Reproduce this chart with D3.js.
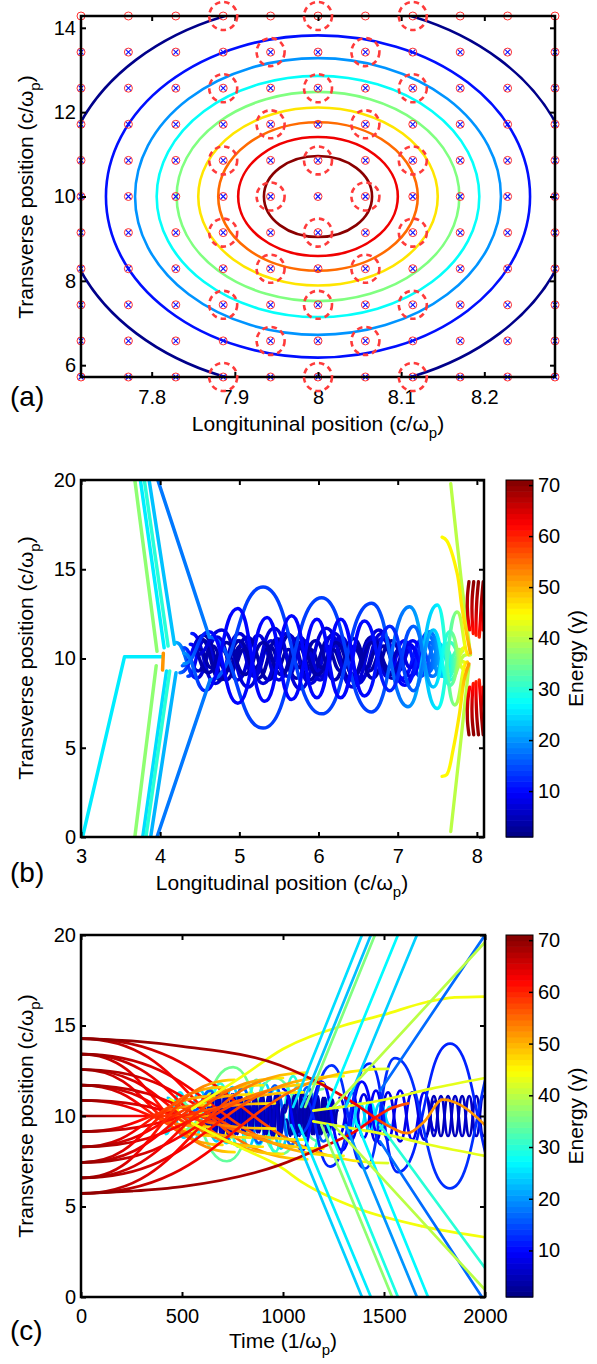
<!DOCTYPE html>
<html>
<head>
<meta charset="utf-8">
<title>Electron trajectories</title>
<script src="https://cdn.jsdelivr.net/npm/d3@7"></script>
<style>
  body { margin: 0; background: #fff; }
  svg { display: block; font-family: "Liberation Sans", Arial, sans-serif; }
</style>
</head>
<body>
<script>
// ---------- panel (a): initial grid and contours ----------
const aGridX = [7.715, 7.772, 7.829, 7.886, 7.943, 8.0, 8.057, 8.114, 8.171, 8.228, 8.285];
const aGridY = [5.72, 6.576, 7.432, 8.288, 9.144, 10.0, 10.856, 11.712, 12.568, 13.424, 14.28];
const aMarked = [
  [7.886,14.28],[8.0,14.28],[8.114,14.28],
  [7.943,13.424],[8.057,13.424],
  [7.886,12.568],[8.0,12.568],[8.114,12.568],
  [7.943,11.712],[8.057,11.712],
  [7.886,10.856],[8.0,10.856],[8.114,10.856],
  [7.943,10.0],[8.057,10.0],
  [7.886,9.144],[8.0,9.144],[8.114,9.144],
  [7.943,8.288],[8.057,8.288],
  [7.886,7.432],[8.0,7.432],[8.114,7.432],
  [7.943,6.576],[8.057,6.576],
  [7.886,5.72],[8.0,5.72],[8.114,5.72]
];
const aLevel = [0.99, 0.89, 0.77, 0.65, 0.5, 0.38, 0.27, 0.14, 0.01];
const aLevelRx = [0.065, 0.096, 0.12, 0.144, 0.17, 0.194, 0.22, 0.255, 0.309];
const aLevelRy = [0.96, 1.41, 1.76, 2.11, 2.48, 2.86, 3.28, 3.82, 4.59];
const aXTicks = [7.8, 7.9, 8, 8.1, 8.2];
const aYTicks = [6, 8, 10, 12, 14];

// ---------- panel (b): trajectories in the bubble frame ----------
const bXTicks = [3, 4, 5, 6, 7, 8];
const bYTicks = [0, 5, 10, 15, 20];
const bInjection = [
  {p:[[3.68,20],[3.96,10.4]], e:37},
  {p:[[3.75,20],[4.05,10.6]], e:26},
  {p:[[3.80,20],[4.10,10.7]], e:30},
  {p:[[3.86,20],[4.18,10.8]], e:23},
  {p:[[3.97,20],[4.62,11.2]], e:18},
  {p:[[3.02,0],[3.55,10.1],[4.02,10.1]], e:26},
  {p:[[3.68,0],[3.95,9.6]], e:37},
  {p:[[3.78,0],[4.08,9.3]], e:25},
  {p:[[3.82,0],[4.12,9.3]], e:30},
  {p:[[3.88,0],[4.20,9.2]], e:22},
  {p:[[3.96,0],[4.63,8.8]], e:18},
  {p:[[4.03,9.35],[4.04,10.3]], e:52}
];
const bEnd = [[4.3,20],[4.6,10],[6.6,10],[7.0,13],[7.3,18],[7.5,25],[7.7,34],[7.85,46]];
const bOrbits = [
  {p:[[4.62,11.2],[5.30,6.1],[6.04,13.4],[6.67,7.0],[7.15,12.9],[7.50,7.2],[7.75,12.6],[7.90,10.2]],
   e:[[4.62,17],[5.0,14],[6.7,14],[7.15,19],[7.5,26],[7.75,37],[7.9,48]]},
  {p:[[4.63,8.8],[5.30,14.0],[6.04,6.9],[6.67,13.1],[7.13,7.3],[7.50,13.0],[7.72,7.4],[7.88,9.8]],
   e:[[4.63,17],[5.0,14],[6.7,14],[7.13,19],[7.5,26],[7.72,37],[7.88,48]]},
  {p:[[4.30,10.3],[4.57,8.2],[4.98,12.8],[5.32,7.6],[5.66,12.4],[5.98,7.8],[6.28,12.2],[6.58,7.9],[6.90,11.8],[7.20,8.2],[7.45,11.6],[7.66,8.5],[7.84,10.6]], e:bEnd},
  {p:[[4.30,9.7],[4.62,11.5],[4.98,7.5],[5.35,12.3],[5.66,7.7],[5.98,12.2],[6.28,7.8],[6.58,12.1],[6.90,8.2],[7.20,11.8],[7.45,8.4],[7.66,11.5],[7.84,9.4]], e:bEnd}
];
const bBandE = [[4.2,22],[4.5,7],[6.8,7],[7.2,11],[7.45,18],[7.65,28],[7.8,40]];
const bBandDeepE = [[4.2,20],[4.5,4],[6.9,4],[7.25,10],[7.5,20],[7.7,32],[7.85,44]];
const bBand = [
  {p:[[4.20,10.9],[4.46,8.9],[4.72,11.2],[4.98,8.8],[5.24,11.3],[5.50,8.8],[5.76,11.2],[6.02,8.8],[6.28,11.2],[6.54,8.9],[6.80,11.1],[7.06,8.9],[7.32,11.1],[7.56,9.0],[7.78,10.5]], e:bBandE},
  {p:[[4.25,9.2],[4.55,11.3],[4.83,8.8],[5.10,11.2],[5.37,8.8],[5.63,11.3],[5.89,8.8],[6.15,11.2],[6.41,8.8],[6.67,11.2],[6.93,8.9],[7.19,11.0],[7.44,9.0],[7.66,10.9],[7.84,9.8]], e:bBandDeepE},
  {p:[[4.30,10.6],[4.48,9.3],[4.66,10.7],[4.84,9.3],[5.02,10.7],[5.20,9.3],[5.38,10.7],[5.56,9.3],[5.74,10.7],[5.92,9.3],[6.10,10.7],[6.28,9.3],[6.46,10.7],[6.64,9.3],[6.82,10.7],[7.00,9.3],[7.18,10.6],[7.36,9.4],[7.54,10.6],[7.72,9.6]], e:bBandDeepE},
  {p:[[4.35,9.0],[4.56,11.0],[4.77,9.0],[4.98,11.0],[5.19,9.0],[5.40,11.0],[5.61,9.0],[5.82,11.0],[6.03,9.0],[6.24,11.0],[6.45,9.0],[6.66,11.0],[6.87,9.0],[7.08,11.0],[7.29,9.0],[7.50,10.9],[7.70,9.3]], e:bBandE},
  {p:[[4.40,11.4],[4.70,8.6],[5.00,11.4],[5.30,8.6],[5.60,11.4],[5.90,8.6],[6.20,11.4],[6.50,8.6],[6.80,11.4],[7.10,8.7],[7.38,11.3],[7.62,8.9],[7.82,10.4]], e:bBandE},
  {p:[[4.50,10.5],[4.64,9.5],[4.78,10.5],[4.92,9.5],[5.06,10.5],[5.20,9.5],[5.34,10.5],[5.48,9.5],[5.62,10.5],[5.76,9.5],[5.90,10.5],[6.04,9.5],[6.18,10.5],[6.32,9.5],[6.46,10.5],[6.60,9.5],[6.74,10.5],[6.88,9.5],[7.02,10.5],[7.16,9.5],[7.30,10.5],[7.44,9.5],[7.58,10.4]], e:bBandDeepE},
  {p:[[4.28,9.6],[4.52,11.1],[4.76,8.8],[5.00,11.0],[5.24,8.9],[5.48,11.1],[5.72,8.9],[5.96,11.0],[6.20,8.8],[6.44,11.1],[6.68,8.9],[6.92,11.0],[7.16,9.0],[7.40,10.9],[7.62,9.2],[7.80,10.3]], e:bBandDeepE},
  {p:[[4.45,10.2],[4.78,11.6],[5.11,8.4],[5.44,11.7],[5.77,8.3],[6.10,11.7],[6.43,8.4],[6.76,11.6],[7.09,8.5],[7.40,11.5],[7.66,8.8],[7.86,10.2]], e:bBandE},
  {p:[[4.38,10.8],[4.61,9.2],[4.84,10.9],[5.07,9.1],[5.30,10.9],[5.53,9.1],[5.76,10.9],[5.99,9.1],[6.22,10.9],[6.45,9.1],[6.68,10.9],[6.91,9.1],[7.14,10.8],[7.37,9.2],[7.58,10.7],[7.76,9.5]], e:bBandDeepE}
];
const bHookE = [[14.3,70],[12.6,66],[11.2,60]];
const bHookLowE = [[5.72,70],[7.4,66],[8.8,60]];
const bFront = [
  {p:[[7.67,19.8],[7.80,14.5],[7.92,10.2]], e:40},
  {p:[[7.67,0.3],[7.80,5.5],[7.90,9.6]], e:40},
  {p:[[7.56,16.8],[7.62,16.6],[7.75,14.8],[7.81,12.9],[7.87,11.4],[7.92,10.3]], e:[[16.8,45],[12,47],[10.3,52]]},
  {p:[[7.56,3.4],[7.62,3.5],[7.70,4.9],[7.78,6.9],[7.84,8.8],[7.90,9.7]], e:[[3.4,45],[8,47],[9.7,52]]},
  {p:[[7.90,14.3],[7.88,13.4],[7.885,12.4],[7.91,11.6]], e:bHookE},
  {p:[[7.96,14.3],[7.94,13.3],[7.94,12.3],[7.955,11.4]], e:bHookE},
  {p:[[8.02,14.3],[8.00,13.3],[7.99,12.2],[7.99,11.3]], e:bHookE},
  {p:[[8.08,14.3],[8.06,13.3],[8.045,12.2],[8.03,11.2]], e:bHookE},
  {p:[[8.10,13.4],[8.085,12.5],[8.075,11.6]], e:bHookE},
  {p:[[7.90,5.72],[7.88,6.6],[7.885,7.6],[7.91,8.4]], e:bHookLowE},
  {p:[[7.96,5.72],[7.94,6.7],[7.94,7.7],[7.955,8.6]], e:bHookLowE},
  {p:[[8.02,5.72],[8.00,6.7],[7.99,7.8],[7.99,8.7]], e:bHookLowE},
  {p:[[8.08,5.72],[8.06,6.7],[8.045,7.8],[8.03,8.8]], e:bHookLowE},
  {p:[[8.10,6.6],[8.085,7.5],[8.075,8.4]], e:bHookLowE}
];

// ---------- panel (c): trajectories in time ----------
const cXTicks = [0, 500, 1000, 1500, 2000];
const cYTicks = [0, 5, 10, 15, 20];
const cbTicks = [10, 20, 30, 40, 50, 60, 70];
const cFan = [
  {p:[[0,14.28],[1120,7.6]], e:[[0,70],[560,61],[1120,46]]},
  {p:[[0,14.28],[1520,7.4]], e:[[0,70],[760,61],[1520,42]]},
  {p:[[0,13.42],[760,8.0]], e:[[0,70],[380,61],[760,47]]},
  {p:[[0,13.42],[1000,7.9]], e:[[0,70],[500,61],[1000,46]]},
  {p:[[0,13.42],[1300,7.8]], e:[[0,70],[650,61],[1300,44]]},
  {p:[[0,12.57],[700,8.4]], e:[[0,70],[350,61],[700,47]]},
  {p:[[0,12.57],[900,8.3]], e:[[0,70],[450,61],[900,46]]},
  {p:[[0,12.57],[1200,8.2]], e:[[0,70],[600,61],[1200,44]]},
  {p:[[0,11.71],[660,8.9]], e:[[0,70],[330,61],[660,47]]},
  {p:[[0,11.71],[840,8.8]], e:[[0,70],[420,61],[840,46]]},
  {p:[[0,11.71],[1100,8.7]], e:[[0,70],[550,61],[1100,45]]},
  {p:[[0,10.86],[640,9.4]], e:[[0,70],[320,61],[640,47]]},
  {p:[[0,10.86],[960,9.3]], e:[[0,70],[480,61],[960,46]]},
  {p:[[0,10.0],[320,10.0],[650,10.0]], e:[[0,70],[320,62],[650,50]]},
  {p:[[0,9.14],[640,10.6]], e:[[0,70],[320,61],[640,47]]},
  {p:[[0,9.14],[960,10.7]], e:[[0,70],[480,61],[960,46]]},
  {p:[[0,8.29],[660,11.1]], e:[[0,70],[330,61],[660,47]]},
  {p:[[0,8.29],[840,11.2]], e:[[0,70],[420,61],[840,46]]},
  {p:[[0,8.29],[1100,11.3]], e:[[0,70],[550,61],[1100,45]]},
  {p:[[0,7.43],[700,11.6]], e:[[0,70],[350,61],[700,47]]},
  {p:[[0,7.43],[900,11.7]], e:[[0,70],[450,61],[900,46]]},
  {p:[[0,7.43],[1200,11.8]], e:[[0,70],[600,61],[1200,44]]},
  {p:[[0,6.58],[760,12.0]], e:[[0,70],[380,61],[760,47]]},
  {p:[[0,6.58],[1000,12.1]], e:[[0,70],[500,61],[1000,46]]},
  {p:[[0,6.58],[1300,12.2]], e:[[0,70],[650,61],[1300,44]]},
  {p:[[0,5.72],[1120,12.4]], e:[[0,70],[560,61],[1120,46]]},
  {p:[[0,5.72],[1520,12.6]], e:[[0,70],[760,61],[1520,42]]}
];
const cCore = [
  {p:[[420,9.0],[490,11.3],[560,8.7],[640,11.5],[720,8.5],[800,11.6],[880,8.4],[960,11.5],[1040,9.0]], e:26},
  {p:[[430,11.0],[510,8.8],[590,11.4],[670,8.6],[750,11.6],[830,8.3],[910,11.8],[990,8.2],[1070,11.6],[1150,9.5]], e:24},
  {p:[[500,9.2],[753,12.7],[990,7.9],[1200,11.5]], e:35},
  {p:[[480,10.8],[722,7.5],[960,12.1],[1180,8.6]], e:34},
  {p:[[440,10.9],[540,9.0],[640,11.2],[740,8.8],[840,11.3],[940,8.7],[1040,10.6]], e:44},
  {p:[[600,9.5],[690,11.8],[780,8.3],[870,12.0],[960,8.0],[1050,12.2],[1140,8.0],[1230,11.0]], e:30},
  {p:[[560,10.3],[640,11.4],[720,8.7],[800,11.6],[880,8.5],[960,11.7],[1040,8.4],[1120,11.6],[1200,8.6],[1280,10.5]], e:16},
  {p:[[612,10.4],[630,9.1],[648,11.2],[666,8.9],[684,11.3],[702,8.9],[720,11.3],[738,8.9],[756,11.2],[774,9.0],[792,11.1],[810,9.1],[828,11.0],[846,9.2],[864,11.0],[882,9.1],[900,11.1],[918,9.0],[936,11.2],[954,8.9],[972,11.2],[990,9.0],[1008,10.6]], e:4},
  {p:[[621,9.6],[639,11.1],[657,9.0],[675,11.2],[693,8.9],[711,11.3],[729,8.9],[747,11.2],[765,9.0],[783,11.1],[801,9.1],[819,11.0],[837,9.2],[855,10.9],[873,9.1],[891,11.0],[909,9.0],[927,11.1],[945,8.9],[963,11.2],[981,8.9],[999,10.4]], e:6},
  {p:[[1010,10.2],[1028,11.1],[1046,9.0],[1064,11.2],[1082,8.9],[1100,11.2],[1118,8.9],[1136,11.1],[1154,9.0],[1172,11.1],[1190,9.0],[1208,11.0],[1226,9.1],[1244,10.9],[1262,9.6]], e:5},
  {p:[[1018,9.8],[1036,8.9],[1054,11.1],[1072,8.9],[1090,11.2],[1108,8.9],[1126,11.1],[1144,9.0],[1162,11.1],[1180,9.0],[1198,11.0],[1216,9.1],[1234,10.9],[1252,9.2],[1270,10.3]], e:4},
  {p:[[1280,9.0],[1340,11.3],[1400,8.8],[1460,11.4],[1520,8.7],[1580,11.4],[1640,8.7],[1700,11.3],[1750,9.2]], e:9},
  {p:[[1280,11.0],[1340,8.7],[1400,11.2],[1460,8.6],[1520,11.3],[1580,8.6],[1640,11.3],[1700,8.7],[1750,10.8]], e:8},
  {p:[[1712,9.0],[1747,11.1],[1782,8.9],[1817,11.1],[1852,8.9],[1887,11.1],[1922,8.9],[1957,11.1],[1992,8.9],[2027,11.0]], e:5},
  {p:[[1712,11.0],[1747,8.9],[1782,11.1],[1817,8.9],[1852,11.1],[1887,8.9],[1922,11.1],[1957,8.9],[1992,11.1],[2027,9.0]], e:6},
  {p:[[1330,10.8],[1380,9.3],[1430,10.8],[1480,9.3],[1530,10.5]], e:27},
  {p:[[1330,9.2],[1380,10.7],[1430,9.2],[1480,10.7],[1530,9.5]], e:24},
  {p:[[1000,11.5],[1094,8.1],[1190,11.9],[1292,8.1],[1390,11.9],[1490,8.4]], e:10},
  {p:[[1080,9.0],[1241,12.8],[1406,7.1],[1554,13.2],[1827,6.0],[2100,14.0]], e:13},
  {p:[[1100,11.0],[1233,7.2],[1430,12.9],[1569,6.9],[1827,14.0],[2100,6.0]], e:12}
];
const cDrift = [
  {p:[[550,10.4],[800,12.2],[1000,13.7],[1300,15.0],[1500,15.6],[1713,16.3],[1850,16.55],[2000,16.6]], e:44},
  {p:[[550,9.6],[800,8.2],[985,7.2],[1100,6.3],[1366,4.9],[1693,3.9],[2000,3.3]], e:44},
  {p:[[1150,10.3],[1350,10.6],[1500,10.9],[1730,11.5],[2000,12.1]], e:43},
  {p:[[1150,9.7],[1350,9.3],[1500,9.0],[1730,8.4],[2000,7.8]], e:43},
  {p:[[0,14.28],[250,14.15],[500,13.85],[985,12.8],[1200,11.7],[1366,10.6],[1430,10.1],[1530,9.4],[1614,9.05],[1700,9.7],[1790,10.9],[1880,10.6],[2000,9.5]],
   e:[[0,70],[1000,68],[1430,62],[1530,55],[1700,52],[2000,52]]},
  {p:[[0,5.72],[250,5.85],[500,6.1],[985,7.3],[1200,8.3],[1366,9.2],[1430,9.7],[1530,10.4],[1620,10.7]],
   e:[[0,70],[1000,68],[1430,62],[1620,56]]}
];
const cEscape = [
  {p:[[1050,10.5],[1391,20]], e:25},
  {p:[[1090,10.5],[1435,20]], e:23},
  {p:[[1110,10.5],[1455,20]], e:36},
  {p:[[1220,10.5],[1569,20]], e:27},
  {p:[[1310,10.5],[1663,20]], e:24},
  {p:[[1040,9.5],[1391,0]], e:24},
  {p:[[1080,9.5],[1435,0]], e:26},
  {p:[[1190,9.5],[1540,0]], e:37},
  {p:[[1220,9.5],[1569,0]], e:29},
  {p:[[1310,9.5],[1663,0]], e:20},
  {p:[[1370,9.5],[1718,0]], e:27},
  {p:[[1480,9.5],[2000,1.6]], e:30},
  {p:[[1480,11.4],[2000,20]], e:17},
  {p:[[1480,8.6],[1985,0]], e:17},
  {p:[[1250,10.5],[2000,19.6]], e:40},
  {p:[[1250,9.5],[2000,0.4]], e:40}
];

// ---------- helpers ----------
function jet(v) {
  v = Math.max(0, Math.min(1, v));
  const f = a => Math.max(0, Math.min(1, 1.5 - Math.abs(4 * v - a)));
  return d3.rgb(255 * f(3), 255 * f(2), 255 * f(1)).formatHex();
}
const eScale = d3.scaleLinear().domain([1, 71]).range([0, 1]).clamp(true);
const ecol = g => jet(eScale(g));

const svg = d3.select('body').append('svg').attr('width', 597).attr('height', 1364);
const defs = svg.append('defs');
let gradN = 0;

function strokeFor(tr, axis, S) {
  if (typeof tr.e === 'number') return ecol(tr.e);
  const st = tr.e, id = 'g' + (gradN++);
  const p0 = S(st[0][0]), p1 = S(st[st.length - 1][0]);
  const gr = defs.append('linearGradient').attr('id', id).attr('gradientUnits', 'userSpaceOnUse')
    .attr('x1', axis === 'x' ? p0 : 0).attr('x2', axis === 'x' ? p1 : 0)
    .attr('y1', axis === 'y' ? p0 : 0).attr('y2', axis === 'y' ? p1 : 0);
  for (let i = 0; i < st.length - 1; i++) {
    for (let k = 0; k < 6; k++) {
      const f = k / 6;
      const c = st[i][0] + f * (st[i + 1][0] - st[i][0]);
      const g = st[i][1] + f * (st[i + 1][1] - st[i][1]);
      gr.append('stop').attr('offset', (S(c) - p0) / (p1 - p0)).attr('stop-color', ecol(g));
    }
  }
  gr.append('stop').attr('offset', 1).attr('stop-color', ecol(st[st.length - 1][1]));
  return 'url(#' + id + ')';
}

function drawSet(g, list, X, Y, curve, axis, w) {
  const line = d3.line().x(d => X(d[0])).y(d => Y(d[1])).curve(curve);
  list.forEach(tr => {
    g.append('path').attr('d', line(tr.p)).attr('fill', 'none')
      .attr('stroke', strokeFor(tr, axis, axis === 'x' ? X : Y))
      .attr('stroke-width', w).attr('stroke-linecap', 'round').attr('stroke-linejoin', 'round');
  });
}

function clipFor(id, b) {
  defs.append('clipPath').attr('id', id).append('rect')
    .attr('x', b.l).attr('y', b.t).attr('width', b.r - b.l).attr('height', b.b - b.t);
  return 'url(#' + id + ')';
}

function axes(b, X, Y, xt, yt, xpad) {
  const g = svg.append('g');
  const fmt = d3.format('~g');
  g.append('g').attr('transform', `translate(0,${b.b})`)
    .call(d3.axisBottom(X).tickValues(xt).tickSize(-5).tickPadding(xpad).tickFormat(fmt));
  g.append('g').attr('transform', `translate(0,${b.t})`)
    .call(d3.axisTop(X).tickValues(xt).tickSize(-5).tickFormat(''));
  g.append('g').attr('transform', `translate(${b.l},0)`)
    .call(d3.axisLeft(Y).tickValues(yt).tickSize(-5).tickPadding(5).tickFormat(fmt));
  g.append('g').attr('transform', `translate(${b.r},0)`)
    .call(d3.axisRight(Y).tickValues(yt).tickSize(-5).tickFormat(''));
  g.selectAll('.domain').remove();
  g.selectAll('.tick line').attr('stroke', '#000').attr('stroke-width', 2);
  g.selectAll('text').attr('font-size', 20).attr('font-family', '"Liberation Sans", Arial, sans-serif').attr('fill', '#000');
  g.append('rect').attr('x', b.l).attr('y', b.t).attr('width', b.r - b.l).attr('height', b.b - b.t)
    .attr('fill', 'none').attr('stroke', '#000').attr('stroke-width', 2.5);
}

function label(x, y, rot, main, sub, tail) {
  const t = svg.append('text').attr('transform', `translate(${x},${y}) rotate(${rot})`)
    .attr('text-anchor', 'middle').attr('font-size', 21).attr('fill', '#000');
  t.append('tspan').text(main);
  t.append('tspan').attr('dy', 7).attr('font-size', 15).text(sub);
  t.append('tspan').attr('dy', -7).text(tail);
}

function colorbar(b, ticksVals) {
  const Yc = d3.scaleLinear().domain([1, 71]).range([b.b, b.t]);
  const g = svg.append('g');
  const n = 64, h = (b.b - b.t) / n;
  g.selectAll('rect.cb').data(d3.range(n)).enter().append('rect')
    .attr('x', b.l).attr('width', b.r - b.l)
    .attr('y', i => b.b - (i + 1) * h).attr('height', h + 0.6)
    .attr('fill', i => jet((i + 0.5) / n));
  g.append('rect').attr('x', b.l).attr('y', b.t).attr('width', b.r - b.l).attr('height', b.b - b.t)
    .attr('fill', 'none').attr('stroke', '#000').attr('stroke-width', 1);
  g.append('g').attr('transform', `translate(${b.r},0)`)
    .call(d3.axisRight(Yc).tickValues(ticksVals).tickSize(-4).tickPadding(5))
    .call(s => s.select('.domain').remove())
    .call(s => s.selectAll('.tick line').attr('stroke', '#000').attr('stroke-width', 1.5))
    .call(s => s.selectAll('text').attr('font-size', 20).attr('font-family', '"Liberation Sans", Arial, sans-serif').attr('fill', '#000'));
  svg.append('text').attr('transform', `translate(583,${(b.t + b.b) / 2}) rotate(-90)`)
    .attr('text-anchor', 'middle').attr('font-size', 21).text('Energy (\u03b3)');
}

function panelTag(y, s) {
  svg.append('text').attr('x', 10).attr('y', y).attr('font-size', 28).text(s);
}

// ---------- panel (a) ----------
const pa = {l: 81, r: 555, t: 16, b: 377};
const xa = d3.scaleLinear().domain([7.715, 8.285]).range([pa.l, pa.r]);
const ya = d3.scaleLinear().domain([5.72, 14.28]).range([pa.b, pa.t]);
const ga = svg.append('g').attr('clip-path', clipFor('ca', pa));
ga.selectAll('ellipse').data(aLevel).enter().append('ellipse')
  .attr('cx', xa(8)).attr('cy', ya(10))
  .attr('rx', (d, i) => xa(8 + aLevelRx[i]) - xa(8))
  .attr('ry', (d, i) => ya(10) - ya(10 + aLevelRy[i]))
  .attr('fill', 'none').attr('stroke', d => jet(d)).attr('stroke-width', 2.6);

const gm = svg.append('g');
const gridPts = d3.cross(aGridX, aGridY);
gm.selectAll('circle.m').data(gridPts).enter().append('circle')
  .attr('cx', d => xa(d[0])).attr('cy', d => ya(d[1])).attr('r', 4)
  .attr('fill', 'none').attr('stroke', '#ff3030').attr('stroke-width', 1);
gm.selectAll('path.x').data(gridPts.filter(d => d[1] < 14)).enter().append('path')
  .attr('d', d => {
    const x = xa(d[0]), y = ya(d[1]);
    return `M${x - 2.5},${y - 2.5}L${x + 2.5},${y + 2.5}M${x - 2.5},${y + 2.5}L${x + 2.5},${y - 2.5}`;
  })
  .attr('stroke', '#1010ff').attr('stroke-width', 1.1);
axes(pa, xa, ya, aXTicks, aYTicks, 13);
svg.append('g').selectAll('circle').data(aMarked).enter().append('circle')
  .attr('cx', d => xa(d[0])).attr('cy', d => ya(d[1])).attr('r', 14)
  .attr('fill', 'none').attr('stroke', '#ff3b3b').attr('stroke-width', 2.6)
  .attr('stroke-dasharray', '5.5,4');
label(318, 431, 0, 'Longituninal position (c/\u03c9', 'p', ')');
label(33, 197, -90, 'Transverse position (c/\u03c9', 'p', ')');
panelTag(406, '(a)');

// ---------- panel (b) ----------
const pb = {l: 81, r: 484, t: 480, b: 837};
const xb = d3.scaleLinear().domain([3, 8.09]).range([pb.l, pb.r]);
const yb = d3.scaleLinear().domain([0, 20]).range([pb.b, pb.t]);
const gb = svg.append('g').attr('clip-path', clipFor('cbp', pb));
drawSet(gb, bBand, xb, yb, d3.curveBumpX, 'x', 3.5);
drawSet(gb, bOrbits, xb, yb, d3.curveBumpX, 'x', 3.5);
drawSet(gb, bInjection, xb, yb, d3.curveLinear, 'x', 3.5);
drawSet(gb, bFront, xb, yb, d3.curveCatmullRom, 'y', 3.3);
axes(pb, xb, yb, bXTicks, bYTicks, 12);
colorbar({l: 506, r: 533, t: 480, b: 837}, cbTicks);
label(282, 890, 0, 'Longitudinal position (c/\u03c9', 'p', ')');
label(33, 658, -90, 'Transverse position (c/\u03c9', 'p', ')');
panelTag(882, '(b)');

// ---------- panel (c) ----------
const pc = {l: 81, r: 485, t: 935, b: 1297};
const xc = d3.scaleLinear().domain([0, 2000]).range([pc.l, pc.r]);
const yc = d3.scaleLinear().domain([0, 20]).range([pc.b, pc.t]);
const gc = svg.append('g').attr('clip-path', clipFor('ccp', pc));
drawSet(gc, cCore, xc, yc, d3.curveBumpX, 'x', 2.7);
drawSet(gc, cFan, xc, yc, d3.curveBumpX, 'x', 2.7);
drawSet(gc, cDrift, xc, yc, d3.curveMonotoneX, 'x', 2.7);
drawSet(gc, cEscape, xc, yc, d3.curveLinear, 'x', 2.7);
axes(pc, xc, yc, cXTicks, cYTicks, 12);
colorbar({l: 506, r: 533, t: 935, b: 1297}, cbTicks);
label(283, 1348, 0, 'Time (1/\u03c9', 'p', ')');
label(33, 1116, -90, 'Transverse position (c/\u03c9', 'p', ')');
panelTag(1340, '(c)');
</script>
</body>
</html>
